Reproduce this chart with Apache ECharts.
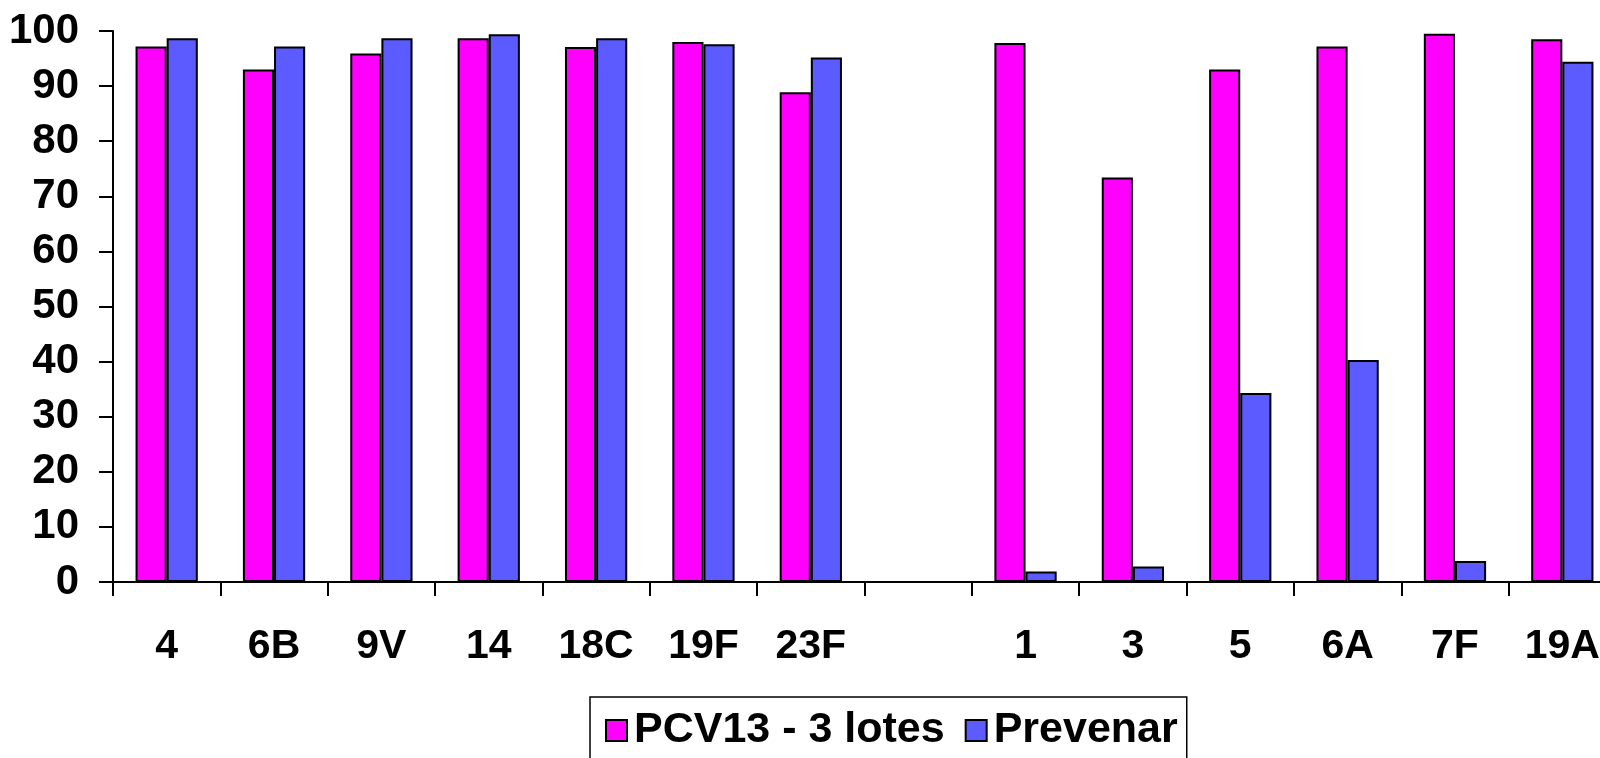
<!DOCTYPE html>
<html>
<head>
<meta charset="utf-8">
<script src="https://cdn.jsdelivr.net/npm/echarts@6/dist/echarts.min.js"></script>
<style>
html,body{margin:0;padding:0;background:#fff;overflow:hidden;width:1600px;height:758px;}
#chart{width:1616px;height:758px;}
</style>
</head>
<body>
<div id="chart"></div>
<script>
const categories = ['4','6B','9V','14','18C','19F','23F',' ','1','3','5','6A','7F','19A'];
const seriesNames = ['PCV13 - 3 lotes','Prevenar'];
const pcv13 = [97.2, 93.0, 95.9, 98.7, 97.1, 98.0, 88.9, null, 97.8, 73.4, 93.0, 97.2, 99.5, 98.5];
const prevenar = [98.7, 97.2, 98.7, 99.4, 98.7, 97.6, 95.2, null, 1.9, 2.8, 34.3, 40.3, 3.8, 94.4];
const yTicks = {min: 0, max: 100, interval: 10};

const font = 'Liberation Sans, Arial, sans-serif';
const chart = echarts.init(document.getElementById('chart'), null, {renderer: 'canvas'});
chart.setOption({
  animation: false,
  backgroundColor: '#ffffff',
  grid: {left: 113, top: 31, right: 0, bottom: 176, containLabel: false},
  legend: {
    left: 590, top: 697,
    data: seriesNames,
    orient: 'horizontal',
    itemWidth: 21, itemHeight: 21, itemGap: 20,
    borderColor: '#000', borderWidth: 1.5,
    padding: [12, 9, 40, 15],
    textStyle: {fontFamily: font, fontWeight: 'bold', fontSize: 43, color: '#000', padding: [0, 0, 0, 2]},
    icon: 'rect'
  },
  xAxis: {
    type: 'category',
    data: categories,
    axisLine: {lineStyle: {color: '#000', width: 2}},
    axisTick: {show: true, length: 14, lineStyle: {color: '#000', width: 2}},
    axisLabel: {fontFamily: font, fontWeight: 'bold', fontSize: 41, color: '#000', margin: 44, interval: 0},
    splitLine: {show: false}
  },
  yAxis: {
    type: 'value',
    min: yTicks.min, max: yTicks.max, interval: yTicks.interval,
    axisLine: {show: true, lineStyle: {color: '#000', width: 2}},
    axisTick: {show: true, length: 14, lineStyle: {color: '#000', width: 2}},
    axisLabel: {fontFamily: font, fontWeight: 'bold', fontSize: 42, color: '#000', margin: 34},
    splitLine: {show: false}
  },
  series: [
    {name: seriesNames[0], type: 'bar', data: pcv13, barGap: '0%', barCategoryGap: '42%',
     itemStyle: {color: '#FF00FF', borderColor: '#000', borderWidth: 2}},
    {name: seriesNames[1], type: 'bar', data: prevenar, barGap: '0%', barCategoryGap: '42%',
     itemStyle: {color: '#5B5BFF', borderColor: '#000', borderWidth: 2}}
  ]
});
</script>
</body>
</html>
